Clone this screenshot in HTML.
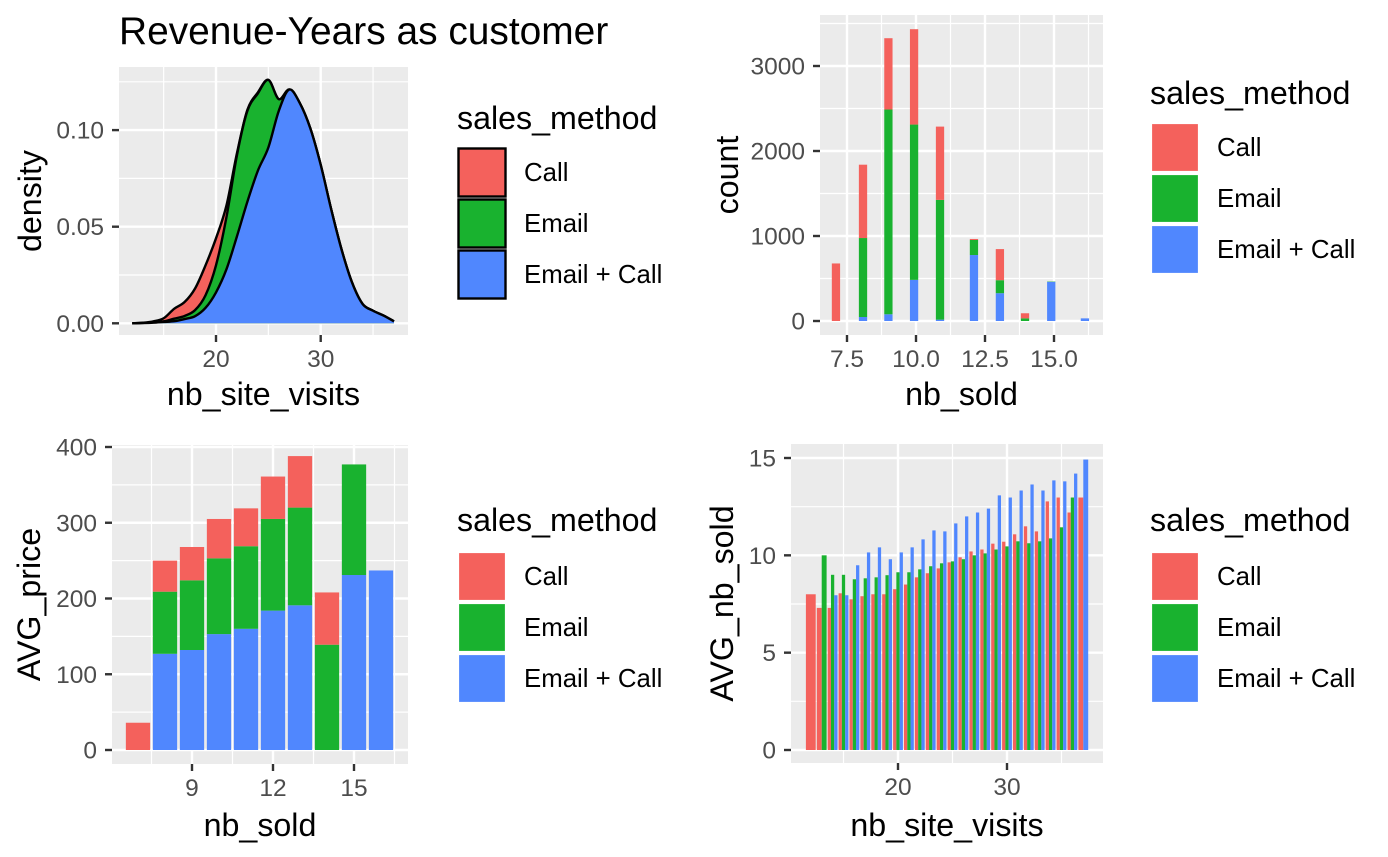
<!DOCTYPE html>
<html><head><meta charset="utf-8"><style>
html,body{margin:0;padding:0;background:#fff;}
svg{display:block;font-family:"Liberation Sans",Arial,sans-serif;}
</style></head><body>
<svg id="chart" width="1388" height="857" viewBox="0 0 1388 857" xmlns="http://www.w3.org/2000/svg">
<text x="119" y="44" font-size="38.9" fill="#000">Revenue-Years as customer</text>
</svg>
<script>
// ---------- data ----------
const groups = ['Call','Email','Email + Call'];
const colors = ['#F4615C','#19B22F','#5087FE'];
// panel 1: density (stacked increments)
const densX = [12,13,14,15,16,17,18,19,20,21,22,23,24,25,26,27,28,29,30,31,32,33,34,35,36,37];
const densBlue = [0,.0001,.0003,.0007,.0011,.0022,.0037,.008,.016,.028,.045,.063,.079,.091,.110,.121,.114,.101,.082,.059,.038,.021,.010,.0065,.004,.001];
const densGreen = [0,.0001,.0002,.0003,.0013,.0016,.0031,.0065,.014,.027,.042,.047,.040,.035,.006,0,0,0,0,0,0,0,0,0,0,0];
const densRed = [0,.0001,.0005,.0016,.0051,.0072,.0112,.0155,.014,.006,.001,.0005,.0005,0,0,0,0,0,0,0,0,0,0,0,0,0];
// panel 2: histogram counts
const histX = [7.1,8.08,9.0,9.93,10.87,12.1,13.04,13.95,14.9,16.12];
const histBlue = [0,47,79,484,16,776,327,0,461,31];
const histGreen = [0,929,2409,1827,1409,177,153,31,4,0];
const histRed = [677,863,839,1122,862,12,366,60,0,0];
// panel 3: avg price stacked
const soldX = [7,8,9,10,11,12,13,14,15,16];
const priceBlue = [0,127,132,153,160,184,191,0,231,237];
const priceGreen = [0,82,92,100,109,121,129,139,146,0];
const priceRed = [36,41,44,52,50,56,68,69,0,0];
// panel 4: avg nb_sold dodged (null = absent)
const visitsX = [12,13,14,15,16,17,18,19,20,21,22,23,24,25,26,27,28,29,30,31,32,33,34,35,36,37];
const avgRed = [8.0,7.3,7.3,8.05,7.74,7.9,8.0,8.0,8.26,8.5,8.87,9.08,9.33,9.64,9.9,10.2,10.3,10.6,10.7,11.08,11.49,11.23,12.77,12.97,12.2,12.97];
const avgGreen = [null,10.0,9.0,9.0,8.77,8.82,8.87,8.98,9.13,9.13,9.28,9.44,9.59,9.69,9.8,10.0,10.1,10.3,10.46,10.72,10.62,10.72,10.87,11.44,12.97,null];
const avgBlue = [null,null,7.95,7.95,9.49,10.15,10.41,9.8,10.15,10.41,10.82,11.28,11.23,11.64,12.0,12.2,12.4,13.08,12.97,13.33,13.64,13.33,13.85,13.8,14.2,14.92];

// ---------- helpers ----------
const NS='http://www.w3.org/2000/svg';
const svg=document.getElementById('chart');
function mk(tag,attrs,parent){const e=document.createElementNS(NS,tag);for(const k in attrs)e.setAttribute(k,attrs[k]);(parent||svg).appendChild(e);return e;}
function lin(d0,d1,r0,r1){return v=>r0+(v-d0)*(r1-r0)/(d1-d0);}

function panel(name,L,T,R,B,sx,sy,xMaj,xMin,yMaj,yMin,xLab,yLab,xTitle,yTitle,xTitleY,yTitleX){
  const g=mk('g',{});
  
  
  const bg=mk('rect',{x:L,y:T,width:R-L,height:B-T,fill:'#EBEBEB'},g);
  
  
  xMin.forEach(v=>{mk('line',{x1:sx(v),x2:sx(v),y1:T,y2:B,stroke:'#fff','stroke-width':1.2},g);});
  yMin.forEach(v=>{mk('line',{y1:sy(v),y2:sy(v),x1:L,x2:R,stroke:'#fff','stroke-width':1.2},g);});
  xMaj.forEach(v=>{mk('line',{x1:sx(v),x2:sx(v),y1:T,y2:B,stroke:'#fff','stroke-width':2.4},g);});
  yMaj.forEach(v=>{mk('line',{y1:sy(v),y2:sy(v),x1:L,x2:R,stroke:'#fff','stroke-width':2.4},g);});
  xMaj.forEach((v,i)=>{
    mk('line',{x1:sx(v),x2:sx(v),y1:B,y2:B+7,stroke:'#333','stroke-width':2.4},g);
    const t=mk('text',{x:sx(v),y:B+32,'text-anchor':'middle','font-size':24.5,fill:'#4D4D4D'},g);
    t.textContent=xLab[i];
    
    
  });
  yMaj.forEach((v,i)=>{
    mk('line',{x1:L-7,x2:L,y1:sy(v),y2:sy(v),stroke:'#333','stroke-width':2.4},g);
    const t=mk('text',{x:L-15,y:sy(v)+8.5,'text-anchor':'end','font-size':24.5,fill:'#4D4D4D'},g);
    t.textContent=yLab[i];
    
    
  });
  const xt=mk('text',{x:(L+R)/2,y:xTitleY,'text-anchor':'middle','font-size':32.2,fill:'#000'},g);
  xt.textContent=xTitle;
  
  
  const yc=(T+B)/2;
  const yt=mk('text',{x:yTitleX,y:yc,'text-anchor':'middle','font-size':32.2,fill:'#000',transform:`rotate(-90 ${yTitleX} ${yc})`},g);
  yt.textContent=yTitle;
  
  
  return g;
}
function legend(x,titleY,keyTop,outline){
  const g=mk('g',{});
  
  
  const t=mk('text',{x:x,y:titleY,'font-size':32.2,fill:'#000'},g);
  t.textContent='sales_method';
  
  
  groups.forEach((gname,i)=>{
    const y=keyTop+i*51;
    const r=mk('rect',{x:x+1.5,y:y+1.5,width:47,height:48,fill:colors[i],stroke:outline?'#000':'#fff','stroke-width':outline?2.4:1.2},g);
    
    
    const l=mk('text',{x:x+67,y:y+34,'font-size':25.8,fill:'#000'},g);
    l.textContent=gname;
    
    
  });
}

// ---------- panel 1: density ----------
(function(){
  const L=119,T=67,R=408,B=335;
  const sx=lin(20,30,216,320.7), sy=lin(0,0.05,323.3,226.7);
  const g=panel('density',L,T,R,B,sx,sy,[20,30],[15,25,35],[0,.05,.1],[.025,.075,.125],['20','30'],['0.00','0.05','0.10'],'nb_site_visits','density',405,41);
  const blueTop=densBlue.slice();
  const greenTop=densBlue.map((v,i)=>v+densGreen[i]);
  const redTop=greenTop.map((v,i)=>v+densRed[i]);
  function smooth(pts){
    let d='M'+pts[0][0]+','+pts[0][1];
    for(let i=0;i<pts.length-1;i++){
      const p0=pts[Math.max(0,i-1)],p1=pts[i],p2=pts[i+1],p3=pts[Math.min(pts.length-1,i+2)];
      const c1=[p1[0]+(p2[0]-p0[0])/6,p1[1]+(p2[1]-p0[1])/6];
      const c2=[p2[0]-(p3[0]-p1[0])/6,p2[1]-(p3[1]-p1[1])/6];
      d+=` C${c1[0]},${c1[1]} ${c2[0]},${c2[1]} ${p2[0]},${p2[1]}`;
    }
    return d;
  }
  [[redTop,0],[greenTop,1],[blueTop,2]].forEach(([arr,ci])=>{
    const pts=densX.map((x,i)=>[sx(x),sy(arr[i])]);
    const line=smooth(pts);
    const area=mk('path',{d:line+` L${sx(densX[densX.length-1])},${sy(0)} L${sx(densX[0])},${sy(0)} Z`,fill:colors[ci],stroke:'none'},g);
    
    
    mk('path',{d:line,fill:'none',stroke:'#000','stroke-width':2.4},g);
  });
  legend(457,129,147,true);
})();

// ---------- panel 2: histogram ----------
(function(){
  const L=820,T=15,R=1103,B=335;
  const sx=lin(7.5,10,847,916), sy=lin(0,1000,321,236);
  const g=panel('histogram',L,T,R,B,sx,sy,[7.5,10,12.5,15],[8.75,11.25,13.75,16.25],[0,1000,2000,3000],[500,1500,2500,3500],['7.5','10.0','12.5','15.0'],['0','1000','2000','3000'],'nb_sold','count',405,738);
  const w=0.3*27.6;
  histX.forEach((x,i)=>{
    let base=0;
    [[histBlue,2],[histGreen,1],[histRed,0]].forEach(([arr,ci])=>{
      const v=arr[i]; if(!v)return;
      const r=mk('rect',{x:sx(x)-w/2,y:sy(base+v),width:w,height:sy(base)-sy(base+v),fill:colors[ci]},g);
      
      
      base+=v;
    });
  });
  legend(1150,104,122,false);
})();

// ---------- panel 3: avg price ----------
(function(){
  const L=112,T=445,R=408,B=764;
  const sx=lin(9,12,192,273), sy=lin(0,400,750,447);
  const g=panel('price',L,T,R,B,sx,sy,[9,12,15],[7.5,10.5,13.5,16.5],[0,100,200,300,400],[50,150,250,350],['9','12','15'],['0','100','200','300','400'],'nb_sold','AVG_price',836,40);
  const w=0.9*27;
  soldX.forEach((x,i)=>{
    let base=0;
    [[priceBlue,2],[priceGreen,1],[priceRed,0]].forEach(([arr,ci])=>{
      const v=arr[i]; if(!v)return;
      const r=mk('rect',{x:sx(x)-w/2,y:sy(base+v),width:w,height:sy(base)-sy(base+v),fill:colors[ci]},g);
      
      
      base+=v;
    });
  });
  legend(457,531,551,false);
})();

// ---------- panel 4: avg nb_sold ----------
(function(){
  const L=791,T=444,R=1103,B=763;
  const sx=lin(20,30,898,1007), sy=lin(0,15,750,458);
  const g=panel('avgsold',L,T,R,B,sx,sy,[20,30],[15,25,35],[0,5,10,15],[2.5,7.5,12.5],['20','30'],['0','5','10','15'],'nb_site_visits','AVG_nb_sold',836,733);
  const W=0.9*10.9;
  visitsX.forEach((x,i)=>{
    const present=[[avgRed,0],[avgGreen,1],[avgBlue,2]].filter(([arr])=>arr[i]!=null);
    const w=W/present.length;
    present.forEach(([arr,ci],k)=>{
      const v=arr[i];
      const r=mk('rect',{x:sx(x)-W/2+k*w,y:sy(v),width:w,height:sy(0)-sy(v),fill:colors[ci]},g);
      
      
    });
  });
  legend(1150,531,551,false);
})();
</script>
</body></html>
